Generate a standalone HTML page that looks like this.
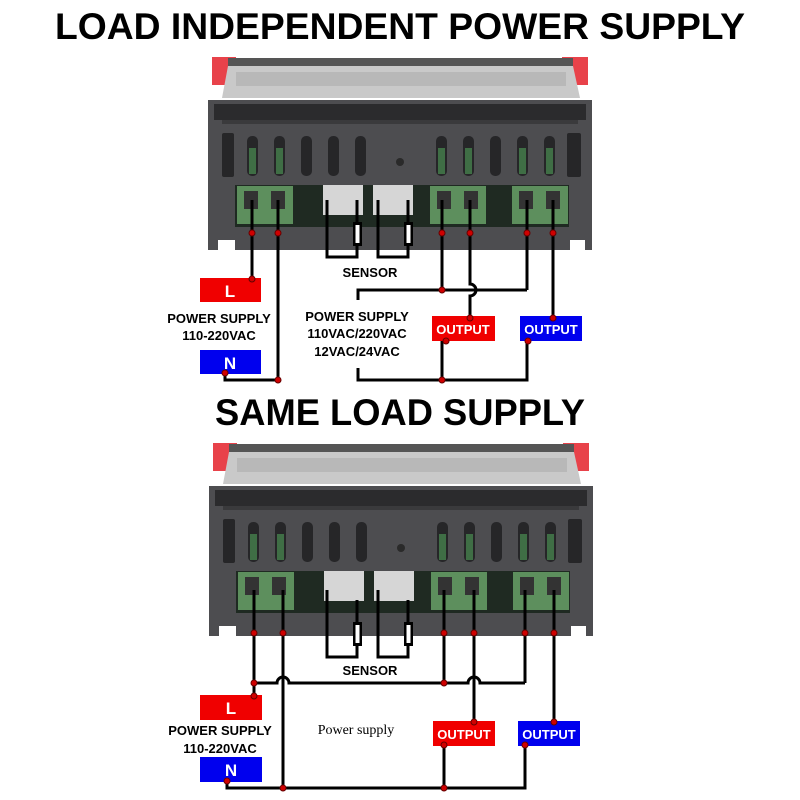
<!DOCTYPE html>
<html><head><style>html,body{margin:0;padding:0;background:#fff}svg{display:block}</style></head>
<body>
<svg width="800" height="800" viewBox="0 0 800 800" xmlns="http://www.w3.org/2000/svg" font-family="Liberation Sans, sans-serif">
<defs>
<g id="dev">
  <rect x="212" y="57" width="24" height="28" fill="#e8424a"/>
  <rect x="562" y="57" width="26" height="28" fill="#e8424a"/>
  <rect x="228" y="58" width="345" height="8" fill="#555"/>
  <polygon points="228,66 573,66 580,98 222,98" fill="#c9c9c9"/>
  <rect x="236" y="72" width="330" height="14" fill="#b8b8b8"/>
  <path d="M208,100 L592,100 L592,250 L585,250 L585,240 L570,240 L570,250 L235,250 L235,240 L218,240 L218,250 L208,250 Z" fill="#4d4d50"/>
  <rect x="214" y="104" width="372" height="16" fill="#2b2b2d"/>
  <rect x="222" y="120" width="356" height="4" fill="#3a3a3c"/>
  <g fill="#262628">
    <rect x="222" y="133" width="12" height="44" rx="2"/>
    <rect x="247" y="136" width="11" height="40" rx="5"/>
    <rect x="274" y="136" width="11" height="40" rx="5"/>
    <rect x="301" y="136" width="11" height="40" rx="5"/>
    <rect x="328" y="136" width="11" height="40" rx="5"/>
    <rect x="355" y="136" width="11" height="40" rx="5"/>
    <rect x="436" y="136" width="11" height="40" rx="5"/>
    <rect x="463" y="136" width="11" height="40" rx="5"/>
    <rect x="490" y="136" width="11" height="40" rx="5"/>
    <rect x="517" y="136" width="11" height="40" rx="5"/>
    <rect x="544" y="136" width="11" height="40" rx="5"/>
    <rect x="567" y="133" width="14" height="44" rx="2"/>
  </g>
  <g fill="#3f6e45">
    <rect x="249" y="148" width="7" height="26"/><rect x="276" y="148" width="7" height="26"/>
    <rect x="438" y="148" width="7" height="26"/><rect x="465" y="148" width="7" height="26"/>
    <rect x="519" y="148" width="7" height="26"/><rect x="546" y="148" width="7" height="26"/>
  </g>
  <circle cx="400" cy="162" r="4" fill="#2a2a2a"/>
  <rect x="235" y="185" width="334" height="42" fill="#1f2a22"/>
  <g fill="#5d8f5d">
    <rect x="237" y="186" width="28" height="38"/><rect x="265" y="186" width="28" height="38"/>
    <rect x="430" y="186" width="28" height="38"/><rect x="458" y="186" width="28" height="38"/>
    <rect x="512" y="186" width="28" height="38"/><rect x="540" y="186" width="28" height="38"/>
  </g>
  <g fill="#333">
    <rect x="244" y="191" width="14" height="18"/><rect x="271" y="191" width="14" height="18"/>
    <rect x="437" y="191" width="14" height="18"/><rect x="464" y="191" width="14" height="18"/>
    <rect x="519" y="191" width="14" height="18"/><rect x="546" y="191" width="14" height="18"/>
  </g>
  <rect x="323" y="185" width="40" height="30" fill="#d6d6d6"/>
  <rect x="373" y="185" width="40" height="30" fill="#d6d6d6"/>
</g>
</defs>

<text x="400" y="39" text-anchor="middle" font-size="37" font-weight="bold" textLength="690" lengthAdjust="spacingAndGlyphs">LOAD INDEPENDENT POWER SUPPLY</text>
<use href="#dev"/>

<g stroke="#000" stroke-width="3" fill="none">
  <polyline points="327,200 327,257 357,257 357,200"/>
  <polyline points="378,200 378,257 408,257 408,200"/>
  <line x1="252" y1="200" x2="252" y2="280"/>
  <polyline points="278,200 278,380 225,380 225,372"/>
  <line x1="442" y1="200" x2="442" y2="290"/>
  <path d="M470,200 L470,284 A6,6 0 0 1 470,296 L470,318"/>
  <line x1="527" y1="200" x2="527" y2="290"/>
  <line x1="553" y1="200" x2="553" y2="318"/>
  <polyline points="358,300 358,290 527,290"/>
  <polyline points="358,368 358,380 527,380 527,340"/>
  <line x1="442" y1="340" x2="442" y2="380"/>
</g>
<g fill="#000"><rect x="353" y="222" width="9" height="24"/><rect x="404" y="222" width="9" height="24"/></g>
<g fill="#fff"><rect x="355.5" y="225" width="4" height="18"/><rect x="406.5" y="225" width="4" height="18"/></g>
<text x="370" y="277" text-anchor="middle" font-size="13" font-weight="bold">SENSOR</text>

<rect x="200" y="278" width="61" height="24" fill="#f00000"/>
<text x="230" y="297" text-anchor="middle" font-size="17" font-weight="bold" fill="#fff">L</text>
<rect x="200" y="350" width="61" height="24" fill="#0000ee"/>
<text x="230" y="369" text-anchor="middle" font-size="17" font-weight="bold" fill="#fff">N</text>
<text x="219" y="323" text-anchor="middle" font-size="13" font-weight="bold">POWER SUPPLY</text>
<text x="219" y="340" text-anchor="middle" font-size="13" font-weight="bold">110-220VAC</text>
<text x="357" y="321" text-anchor="middle" font-size="13" font-weight="bold">POWER SUPPLY</text>
<text x="357" y="338" text-anchor="middle" font-size="13" font-weight="bold">110VAC/220VAC</text>
<text x="357" y="356" text-anchor="middle" font-size="13" font-weight="bold">12VAC/24VAC</text>
<rect x="432" y="316" width="63" height="25" fill="#f00000"/>
<text x="463" y="334" text-anchor="middle" font-size="13" font-weight="bold" fill="#fff">OUTPUT</text>
<rect x="520" y="316" width="62" height="25" fill="#0000ee"/>
<text x="551" y="334" text-anchor="middle" font-size="13" font-weight="bold" fill="#fff">OUTPUT</text>
<g fill="#d00000" stroke="#600" stroke-width="1">
  <circle cx="252" cy="233" r="3"/><circle cx="278" cy="233" r="3"/><circle cx="442" cy="233" r="3"/><circle cx="470" cy="233" r="3"/><circle cx="527" cy="233" r="3"/><circle cx="553" cy="233" r="3"/>
  <circle cx="252" cy="279" r="3"/><circle cx="225" cy="373" r="3"/><circle cx="278" cy="380" r="3"/>
  <circle cx="442" cy="290" r="3"/><circle cx="470" cy="318" r="3"/><circle cx="553" cy="318" r="3"/>
  <circle cx="446" cy="341" r="3"/><circle cx="528" cy="341" r="3"/><circle cx="442" cy="380" r="3"/>
</g>

<text x="400" y="425" text-anchor="middle" font-size="37" font-weight="bold" textLength="370" lengthAdjust="spacingAndGlyphs">SAME LOAD SUPPLY</text>
<use href="#dev" transform="translate(1,386)"/>

<g stroke="#000" stroke-width="3" fill="none">
  <polyline points="327,590 327,657 357,657 357,600"/>
  <polyline points="378,590 378,657 408,657 408,600"/>
  <line x1="254" y1="590" x2="254" y2="696"/>
  <line x1="283" y1="590" x2="283" y2="788"/>
  <line x1="444" y1="590" x2="444" y2="683"/>
  <line x1="474" y1="590" x2="474" y2="722"/>
  <line x1="525" y1="590" x2="525" y2="683"/>
  <line x1="554" y1="590" x2="554" y2="722"/>
  <path d="M254,683 L277,683 A6,6 0 0 1 289,683 L468,683 A6,6 0 0 1 480,683 L525,683"/>
  <polyline points="227,781 227,788 525,788 525,745"/>
  <line x1="444" y1="745" x2="444" y2="788"/>
</g>
<g fill="#000"><rect x="353" y="622" width="9" height="24"/><rect x="404" y="622" width="9" height="24"/></g>
<g fill="#fff"><rect x="355.5" y="625" width="4" height="18"/><rect x="406.5" y="625" width="4" height="18"/></g>
<text x="370" y="675" text-anchor="middle" font-size="13" font-weight="bold">SENSOR</text>

<rect x="200" y="695" width="62" height="25" fill="#f00000"/>
<text x="231" y="714" text-anchor="middle" font-size="17" font-weight="bold" fill="#fff">L</text>
<rect x="200" y="757" width="62" height="25" fill="#0000ee"/>
<text x="231" y="776" text-anchor="middle" font-size="17" font-weight="bold" fill="#fff">N</text>
<text x="220" y="735" text-anchor="middle" font-size="13" font-weight="bold">POWER SUPPLY</text>
<text x="220" y="753" text-anchor="middle" font-size="13" font-weight="bold">110-220VAC</text>
<text x="356" y="734" text-anchor="middle" font-size="14" font-family="Liberation Serif, serif">Power supply</text>
<rect x="433" y="721" width="62" height="25" fill="#f00000"/>
<text x="464" y="739" text-anchor="middle" font-size="13" font-weight="bold" fill="#fff">OUTPUT</text>
<rect x="518" y="721" width="62" height="25" fill="#0000ee"/>
<text x="549" y="739" text-anchor="middle" font-size="13" font-weight="bold" fill="#fff">OUTPUT</text>
<g fill="#d00000" stroke="#600" stroke-width="1">
  <circle cx="254" cy="633" r="3"/><circle cx="283" cy="633" r="3"/><circle cx="444" cy="633" r="3"/><circle cx="474" cy="633" r="3"/><circle cx="525" cy="633" r="3"/><circle cx="554" cy="633" r="3"/>
  <circle cx="254" cy="683" r="3"/><circle cx="444" cy="683" r="3"/><circle cx="254" cy="696" r="3"/>
  <circle cx="474" cy="722" r="3"/><circle cx="554" cy="722" r="3"/>
  <circle cx="444" cy="745" r="3"/><circle cx="525" cy="745" r="3"/>
  <circle cx="227" cy="781" r="3"/><circle cx="283" cy="788" r="3"/><circle cx="444" cy="788" r="3"/>
</g>
</svg>
</body></html>
